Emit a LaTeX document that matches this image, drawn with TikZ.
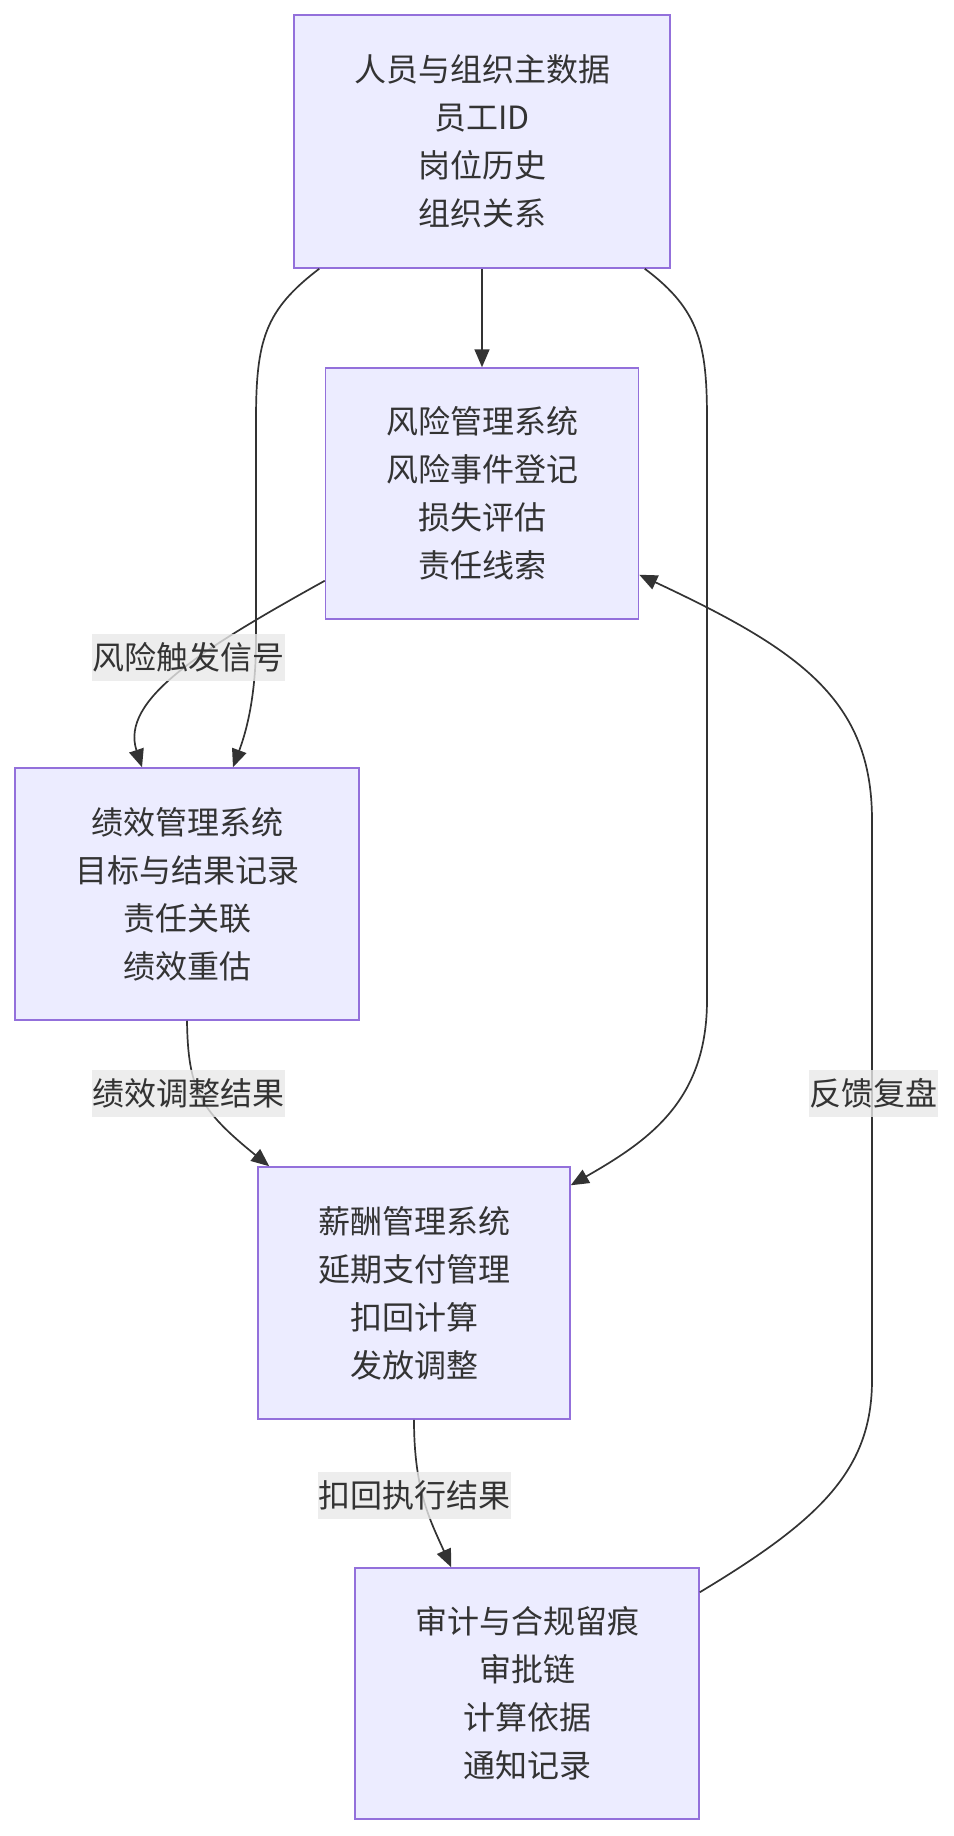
\documentclass[tikz,border=0pt]{standalone}
\usepackage{fontspec}
\newfontfamily\cjk{Noto Sans CJK SC}
\usepackage{tikz}
\usetikzlibrary{arrows.meta}
\usepackage{xcolor}
\definecolor{boxfill}{HTML}{ECECFF}
\definecolor{boxline}{HTML}{9370DB}
\definecolor{edgeline}{HTML}{333333}
\definecolor{lblfill}{HTML}{E8E8E8}

\begin{document}
\begin{tikzpicture}[x=1pt, y=-1pt, >={Triangle[length=18pt,width=15pt]},
  every node/.style={font=\cjk\fontsize{32}{48}\selectfont, text=edgeline},
  box/.style={draw=boxline, fill=boxfill, line width=1.5pt, align=center,
              inner sep=0pt},
  lbl/.style={fill=lblfill, fill opacity=0.8, text opacity=1, inner sep=0pt,
              minimum height=47pt},
  link/.style={->, draw=edgeline, line width=1.7pt}]

  \useasboundingbox (0,0) rectangle (953,1836);

  % ---- Systems ----
  \node[box, minimum width=376pt, minimum height=253pt] (hr) at (482,141.5)
    {人员与组织主数据\\员工ID\\岗位历史\\组织关系};
  \node[box, minimum width=313pt, minimum height=251pt] (risk) at (482,493.5)
    {风险管理系统\\风险事件登记\\损失评估\\责任线索};
  \node[box, minimum width=344pt, minimum height=252pt] (perf) at (187,894)
    {绩效管理系统\\目标与结果记录\\责任关联\\绩效重估};
  \node[box, minimum width=312pt, minimum height=252pt] (pay) at (414,1293)
    {薪酬管理系统\\延期支付管理\\扣回计算\\发放调整};
  \node[box, minimum width=344pt, minimum height=251pt] (audit) at (527,1693.5)
    {审计与合规留痕\\审批链\\计算依据\\通知记录};

  % ---- Master data feeds ----
  \draw[link] (hr) -- (risk);
  \draw[link] ([xshift=26pt]hr.south west) .. controls (265,310) and (256,340) .. (256,420)
    -- (256,640) .. controls (256,700) and (245,735) .. ([xshift=46pt]perf.north);
  \draw[link] ([xshift=-26pt]hr.south east) .. controls (700,310) and (707,345) .. (707,420)
    -- (707,1000) .. controls (707,1100) and (650,1140) .. ([yshift=-19pt]pay.north east);

  % ---- Main chain ----
  \draw[link] ([yshift=39pt]risk.south west) .. controls (200,650) and (120,700)
    .. ([xshift=-45pt]perf.north);
  \draw[link] (perf.south) .. controls (188,1090) and (200,1110) .. ([xshift=12pt]pay.north west);
  \draw[link] (pay.south) .. controls (414,1490) and (430,1520) .. ([xshift=97pt]audit.north west);

  % ---- Feedback loop ----
  \draw[link] ([yshift=-25pt]audit.north east) .. controls (820,1520) and (872,1470) .. (872,1380)
    -- (872,820) .. controls (872,700) and (800,650) .. ([yshift=45pt]risk.south east);

  % ---- Edge labels ----
  \node[lbl, minimum width=193pt] (sig) at (188,657)  {风险触发信号};
  \node[lbl, minimum width=193pt] (adj) at (188,1093) {绩效调整结果};
  \node[lbl, minimum width=129pt] (rev) at (873,1093) {反馈复盘};
  \node[lbl, minimum width=193pt] (exe) at (414,1495) {扣回执行结果};
\end{tikzpicture}
\end{document}
